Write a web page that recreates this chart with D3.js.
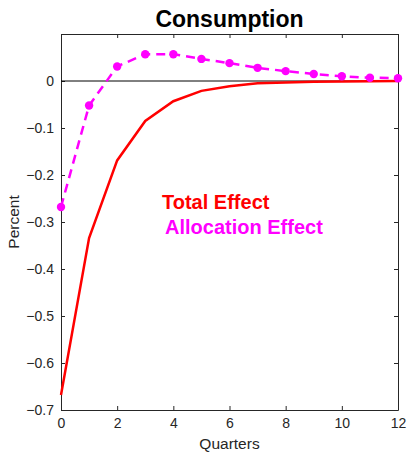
<!DOCTYPE html>
<html>
<head>
<meta charset="utf-8">
<script src="https://cdn.jsdelivr.net/npm/d3@7"></script>
<style>
  html, body { margin: 0; padding: 0; background: #fff; }
  svg { display: block; font-family: "Liberation Sans", Arial, sans-serif; }
</style>
</head>
<body>
<div id="chart"></div>
<script>
// data
var quarters = [0, 1, 2, 3, 4, 5, 6, 7, 8, 9, 10, 11, 12];
var totalEffect = [-0.668, -0.334, -0.169, -0.085, -0.043, -0.021, -0.011, -0.005, -0.003, -0.0015, -0.001, -0.0005, 0];
var allocationEffect = [-0.268, -0.052, 0.031, 0.057, 0.057, 0.047, 0.038, 0.028, 0.021, 0.015, 0.010, 0.007, 0.006];
var xTicks = [0, 2, 4, 6, 8, 10, 12];
var yTicks = [-0.7, -0.6, -0.5, -0.4, -0.3, -0.2, -0.1, 0];

var width = 408, height = 455;
var margin = { top: 34, right: 10, bottom: 45, left: 61 };

var svg = d3.select('#chart').append('svg')
    .attr('width', width)
    .attr('height', height);

var x = d3.scaleLinear().domain([0, 12]).range([margin.left, width - margin.right]);
var y = d3.scaleLinear().domain([-0.7, 0.1]).range([height - margin.bottom, margin.top]);

var axisColor = '#262626';

// --- axes (MATLAB box style, inward ticks) ---
function styleAxis(g) {
    g.select('.domain').attr('stroke', axisColor);
    g.selectAll('.tick line').attr('stroke', axisColor);
    g.selectAll('.tick text').attr('fill', axisColor).attr('font-size', 14);
}

svg.append('g')
    .attr('transform', 'translate(0,' + y(-0.7) + ')')
    .call(d3.axisBottom(x).tickValues(xTicks).tickSize(-4).tickPadding(8).tickSizeOuter(0))
    .call(styleAxis);

svg.append('g')
    .attr('transform', 'translate(0,' + y(0.1) + ')')
    .call(d3.axisTop(x).tickValues(xTicks).tickSize(-4).tickFormat('').tickSizeOuter(0))
    .call(styleAxis);

svg.append('g')
    .attr('transform', 'translate(' + x(0) + ',0)')
    .call(d3.axisLeft(y).tickValues(yTicks).tickSize(-4).tickPadding(7).tickSizeOuter(0)
        .tickFormat(function (d) { return d === 0 ? '0' : d3.format('.1f')(d); }))
    .call(styleAxis);

svg.append('g')
    .attr('transform', 'translate(' + x(12) + ',0)')
    .call(d3.axisRight(y).tickValues(yTicks).tickSize(-4).tickFormat('').tickSizeOuter(0))
    .call(styleAxis);

// zero line
svg.append('line')
    .attr('x1', x(0)).attr('x2', x(12))
    .attr('y1', y(0)).attr('y2', y(0))
    .attr('stroke', '#000')
    .attr('stroke-width', 1);

// --- lines ---
var line = d3.line()
    .x(function (d) { return x(d[0]); })
    .y(function (d) { return y(d[1]); });

var totalData = quarters.map(function (q, i) { return [q, totalEffect[i]]; });
var allocData = quarters.map(function (q, i) { return [q, allocationEffect[i]]; });

svg.append('path')
    .datum(totalData)
    .attr('d', line)
    .attr('fill', 'none')
    .attr('stroke', '#ff0000')
    .attr('stroke-width', 2.5);

svg.append('path')
    .datum(allocData)
    .attr('d', line)
    .attr('fill', 'none')
    .attr('stroke', '#ff00ff')
    .attr('stroke-width', 2.5)
    .attr('stroke-dasharray', '9,6');

svg.append('g')
    .selectAll('circle')
    .data(allocData)
    .join('circle')
    .attr('cx', function (d) { return x(d[0]); })
    .attr('cy', function (d) { return y(d[1]); })
    .attr('r', 4.2)
    .attr('fill', '#ff00ff');

// --- text ---
svg.append('text')
    .attr('x', (x(0) + x(12)) / 2)
    .attr('y', 27)
    .attr('text-anchor', 'middle')
    .attr('font-size', 23)
    .attr('font-weight', 'bold')
    .attr('fill', '#000')
    .text('Consumption');

svg.append('text')
    .attr('x', (x(0) + x(12)) / 2)
    .attr('y', 449)
    .attr('text-anchor', 'middle')
    .attr('font-size', 15.5)
    .attr('fill', axisColor)
    .text('Quarters');

svg.append('text')
    .attr('transform', 'translate(19,' + y(-0.3) + ') rotate(-90)')
    .attr('text-anchor', 'middle')
    .attr('font-size', 15.5)
    .attr('fill', axisColor)
    .text('Percent');

svg.append('text')
    .attr('x', 162)
    .attr('y', 209)
    .attr('font-size', 20)
    .attr('font-weight', 'bold')
    .attr('fill', '#ff0000')
    .text('Total Effect');

svg.append('text')
    .attr('x', 165)
    .attr('y', 234)
    .attr('font-size', 20)
    .attr('font-weight', 'bold')
    .attr('fill', '#ff00ff')
    .text('Allocation Effect');
</script>
</body>
</html>
